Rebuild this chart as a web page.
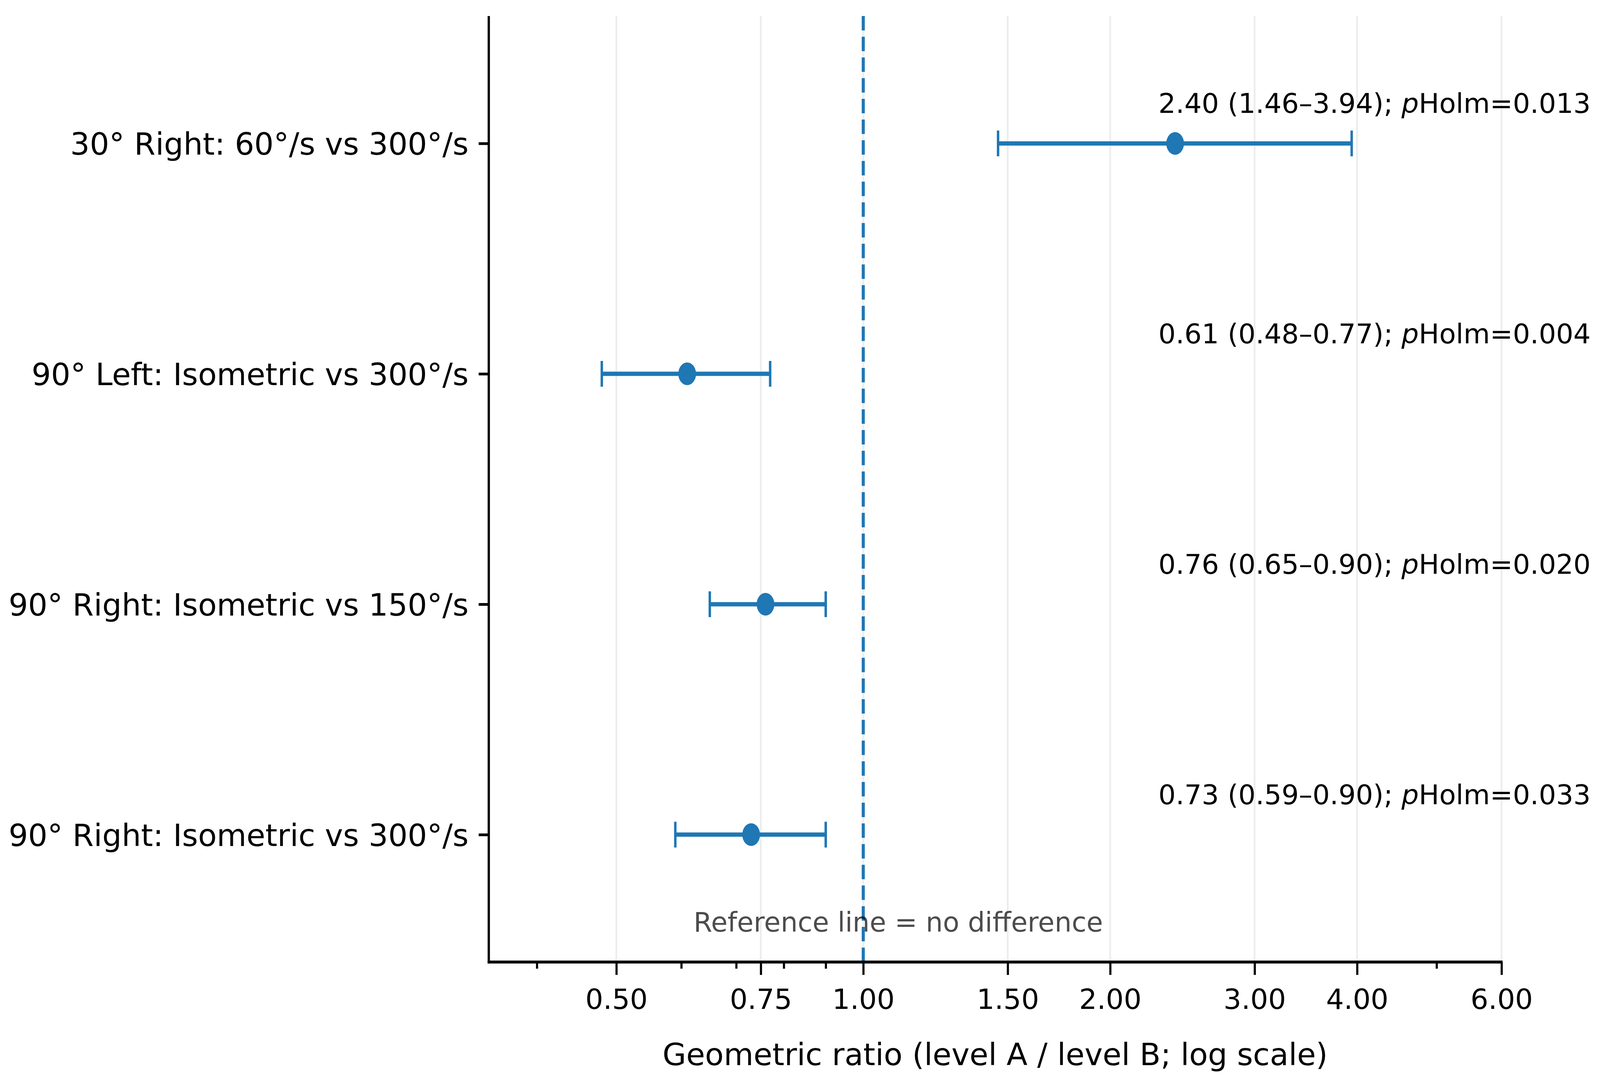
<!DOCTYPE html>
<html>
<head>
<meta charset="utf-8">
<script src="https://cdn.jsdelivr.net/npm/d3@7"></script>
<style>
  html, body { margin: 0; padding: 0; background: #fff; overflow: hidden; }
  #forest svg { display: block; }
  text { font-family: 'DejaVu Sans', sans-serif; }
</style>
</head>
<body>
<div id="forest"></div>
<script>
var comparisons = [
  '30° Right: 60°/s vs 300°/s',
  '90° Left: Isometric vs 300°/s',
  '90° Right: Isometric vs 150°/s',
  '90° Right: Isometric vs 300°/s'
]
var ratios = [2.40, 0.61, 0.76, 0.73]
var ciLow = [1.46, 0.48, 0.65, 0.59]
var ciHigh = [3.94, 0.77, 0.90, 0.90]
var pHolm = ['0.013', '0.004', '0.020', '0.033']
var majorTicks = [0.5, 0.75, 1, 1.5, 2, 3, 4, 6]
var minorTicks = [0.4, 0.6, 0.7, 0.8, 0.9, 5]

// layout is designed on a 5231 x 2765 frame and stretched to the real window
var vw = window.innerWidth || 5231
var vh = window.innerHeight || 2765
var sx = vw / 5231
var sy = vh / 2765

var margin = { top: 41 * sy, left: 1598 * sx, right: 322 * sx, bottom: 302 * sy }
var width = vw - margin.left - margin.right
var height = vh - margin.top - margin.bottom

var blue = '#1f77b4'

var svg = d3
  .select('#forest')
  .append('svg')
  .attr('width', vw)
  .attr('height', vh)
  .style('background', '#fff')
  .append('g')
  .attr('transform', 'translate(' + margin.left + ',' + margin.top + ')')

var xPositionScale = d3
  .scaleLog()
  .domain([0.3495, 6])
  .range([0, width])
var yPositionScale = d3
  .scaleLinear()
  .domain([-0.553, 3.553])
  .range([0, height])

var rows = comparisons.map(function(c, i) {
  return { label: c, i: i, ratio: ratios[i], lo: ciLow[i], hi: ciHigh[i], p: pHolm[i] }
})

// light vertical grid on the major ticks
svg
  .selectAll('.grid')
  .data(majorTicks)
  .enter()
  .append('line')
  .attr('class', 'grid')
  .attr('x1', function(d) { return xPositionScale(d) })
  .attr('x2', function(d) { return xPositionScale(d) })
  .attr('y1', 0)
  .attr('y2', height)
  .attr('stroke', '#ededed')
  .attr('stroke-width', 6 * sx)

// reference line at 1 (drawn from the bottom up like matplotlib)
svg
  .append('line')
  .attr('x1', xPositionScale(1))
  .attr('x2', xPositionScale(1))
  .attr('y1', height)
  .attr('y2', 0)
  .attr('stroke', blue)
  .attr('stroke-width', 10 * sx)
  .attr('stroke-dasharray', 37 * sy + ' ' + 16 * sy)

// error bars
svg
  .selectAll('.ci')
  .data(rows)
  .enter()
  .append('line')
  .attr('class', 'ci')
  .attr('x1', function(d) { return xPositionScale(d.lo) })
  .attr('x2', function(d) { return xPositionScale(d.hi) })
  .attr('y1', function(d) { return yPositionScale(d.i) })
  .attr('y2', function(d) { return yPositionScale(d.i) })
  .attr('stroke', blue)
  .attr('stroke-width', 11 * sy)

rows.forEach(function(d) {
  [d.lo, d.hi].forEach(function(v) {
    svg
      .append('line')
      .attr('x1', xPositionScale(v))
      .attr('x2', xPositionScale(v))
      .attr('y1', yPositionScale(d.i) - 33 * sy)
      .attr('y2', yPositionScale(d.i) + 33 * sy)
      .attr('stroke', blue)
      .attr('stroke-width', 8 * sx)
  })
})

svg
  .selectAll('.dot')
  .data(rows)
  .enter()
  .append('ellipse')
  .attr('class', 'dot')
  .attr('rx', 29 * sx)
  .attr('ry', 29 * sy)
  .attr('cx', function(d) { return xPositionScale(d.ratio) })
  .attr('cy', function(d) { return yPositionScale(d.i) })
  .attr('fill', blue)

// annotations
var notes = svg
  .selectAll('.note')
  .data(rows)
  .enter()
  .append('text')
  .attr('class', 'note')
  .attr('x', xPositionScale(2.29))
  .attr('y', function(d) { return yPositionScale(d.i - 0.132) })
  .attr('font-size', 89 * sx)
  .attr('fill', '#000')
notes.append('tspan').text(function(d) {
  return d.ratio.toFixed(2) + ' (' + d.lo.toFixed(2) + '\u2013' + d.hi.toFixed(2) + '); '
})
notes.append('tspan').attr('font-style', 'italic').text('p')
notes.append('tspan').text(function(d) { return 'Holm=' + d.p })

svg
  .append('text')
  .text('Reference line = no difference')
  .attr('x', xPositionScale(0.621))
  .attr('y', yPositionScale(3.42))
  .attr('font-size', 88 * sx)
  .attr('fill', '#000')
  .attr('fill-opacity', 0.7)

// axes
var xAxis = d3
  .axisBottom(xPositionScale)
  .tickValues(majorTicks)
  .tickFormat(d3.format('.2f'))
  .tickSize(33 * sy)
  .tickPadding(36 * sy)
svg
  .append('g')
  .attr('class', 'axis x-axis')
  .attr('transform', 'translate(0,' + height + ')')
  .call(xAxis)

var xMinor = d3
  .axisBottom(xPositionScale)
  .tickValues(minorTicks)
  .tickFormat('')
  .tickSize(17 * sy)
svg
  .append('g')
  .attr('class', 'axis x-minor')
  .attr('transform', 'translate(0,' + height + ')')
  .call(xMinor)

var yAxis = d3
  .axisLeft(yPositionScale)
  .tickValues([0, 1, 2, 3])
  .tickFormat(function(d) { return comparisons[d] })
  .tickSize(33 * sx)
  .tickPadding(33 * sx)
svg
  .append('g')
  .attr('class', 'axis y-axis')
  .call(yAxis)

svg.selectAll('.axis path').remove()
svg
  .selectAll('.x-axis line, .x-minor line')
  .attr('stroke', '#000')
  .attr('stroke-width', 7 * sx)
svg
  .selectAll('.y-axis line')
  .attr('stroke', '#000')
  .attr('stroke-width', 7 * sy)
svg
  .selectAll('.x-axis text')
  .attr('font-size', 91.7 * sx)
  .attr('font-family', 'DejaVu Sans')
  .attr('fill', '#000')
svg
  .selectAll('.y-axis text')
  .attr('font-size', 100 * sx)
  .attr('font-family', 'DejaVu Sans')
  .attr('fill', '#000')
  .attr('dy', '0.36em')

// spines: left and bottom only
svg
  .append('line')
  .attr('x1', 0)
  .attr('x2', 0)
  .attr('y1', 0)
  .attr('y2', height + 3.5 * sy)
  .attr('stroke', '#000')
  .attr('stroke-width', 7.5 * sx)
svg
  .append('line')
  .attr('x1', -3.5 * sx)
  .attr('x2', width + 3.5 * sx)
  .attr('y1', height)
  .attr('y2', height)
  .attr('stroke', '#000')
  .attr('stroke-width', 7.5 * sy)

svg
  .append('text')
  .text('Geometric ratio (level A / level B; log scale)')
  .attr('x', width / 2)
  .attr('y', 2727 * sy - margin.top)
  .attr('text-anchor', 'middle')
  .attr('font-size', 100 * sx)
  .attr('fill', '#000')
</script>
</body>
</html>
